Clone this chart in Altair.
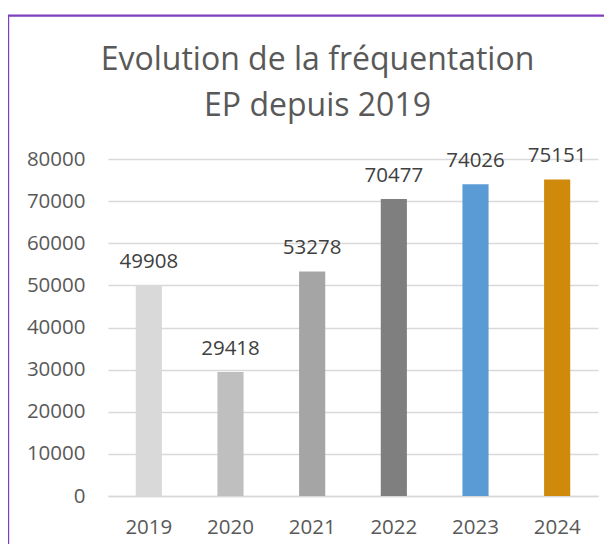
import altair as alt
import pandas as pd

# ---- data ----
years = ["2019", "2020", "2021", "2022", "2023", "2024"]
visits = [49908, 29418, 53278, 70477, 74026, 75151]
y_ticks = [0, 10000, 20000, 30000, 40000, 50000, 60000, 70000, 80000]
title_lines = ["Evolution de la fréquentation", "EP depuis 2019"]

# ---- styles ----
palette = ["#d9d9d9", "#bfbfbf", "#a5a5a5", "#7f7f7f", "#5b9bd5", "#cf8a0b"]
FONT = "Open Sans"
TXT = "#595959"

df = pd.DataFrame({"year": years, "visits": visits})

x = alt.X(
    "year:N",
    sort=years,
    scale=alt.Scale(paddingInner=0.68, paddingOuter=0.34),
    axis=alt.Axis(
        title=None, labelAngle=0, ticks=False, tickSize=0, labelPadding=21.5,
        domainColor="#d9d9d9", domainWidth=1.5, grid=False,
        labelFont=FONT, labelFontSize=20.5, labelColor=TXT,
    ),
)
y = alt.Y(
    "visits:Q",
    scale=alt.Scale(domain=[0, 80000], nice=False),
    axis=alt.Axis(
        title=None, values=y_ticks, format="d", domain=False, ticks=False,
        tickSize=0, labelPadding=23, gridColor="#d9d9d9", gridWidth=1.5,
        labelFont=FONT, labelFontSize=20.5, labelColor=TXT,
    ),
)

bars = alt.Chart(df).mark_bar().encode(
    x=x,
    y=y,
    color=alt.Color("year:N", scale=alt.Scale(domain=years, range=palette), legend=None),
)

labels = alt.Chart(df).mark_text(
    dy=-17.5, baseline="alphabetic", font=FONT, fontSize=20.5, color="#404040"
).encode(
    x=alt.X("year:N", sort=years),
    y=alt.Y("visits:Q"),
    text=alt.Text("visits:Q", format="d"),
)

title = alt.Chart(alt.Data(values=[{"t": "\n".join(title_lines)}])).mark_text(
    align="center", baseline="alphabetic", font=FONT, fontSize=32,
    color=TXT, lineBreak="\n", lineHeight=46,
).encode(
    text="t:N", x=alt.value(209.5), y=alt.value(-89)
)

frame = alt.Chart(alt.Data(values=[{"f": 1}])).mark_rect(
    fillOpacity=0, stroke="#7f3fbf", strokeWidth=2.4
).encode(
    x=alt.value(-100), x2=alt.value(700), y=alt.value(-143.4), y2=alt.value(700)
)

chart = alt.layer(bars, labels, title, frame).properties(
    width=490,
    height=337,
    padding={"left": 100, "top": 151, "right": 6, "bottom": 48},
    autosize="none",
).configure_view(stroke=None)

chart.save("out.html", embed_options={"renderer": "svg", "actions": False})
